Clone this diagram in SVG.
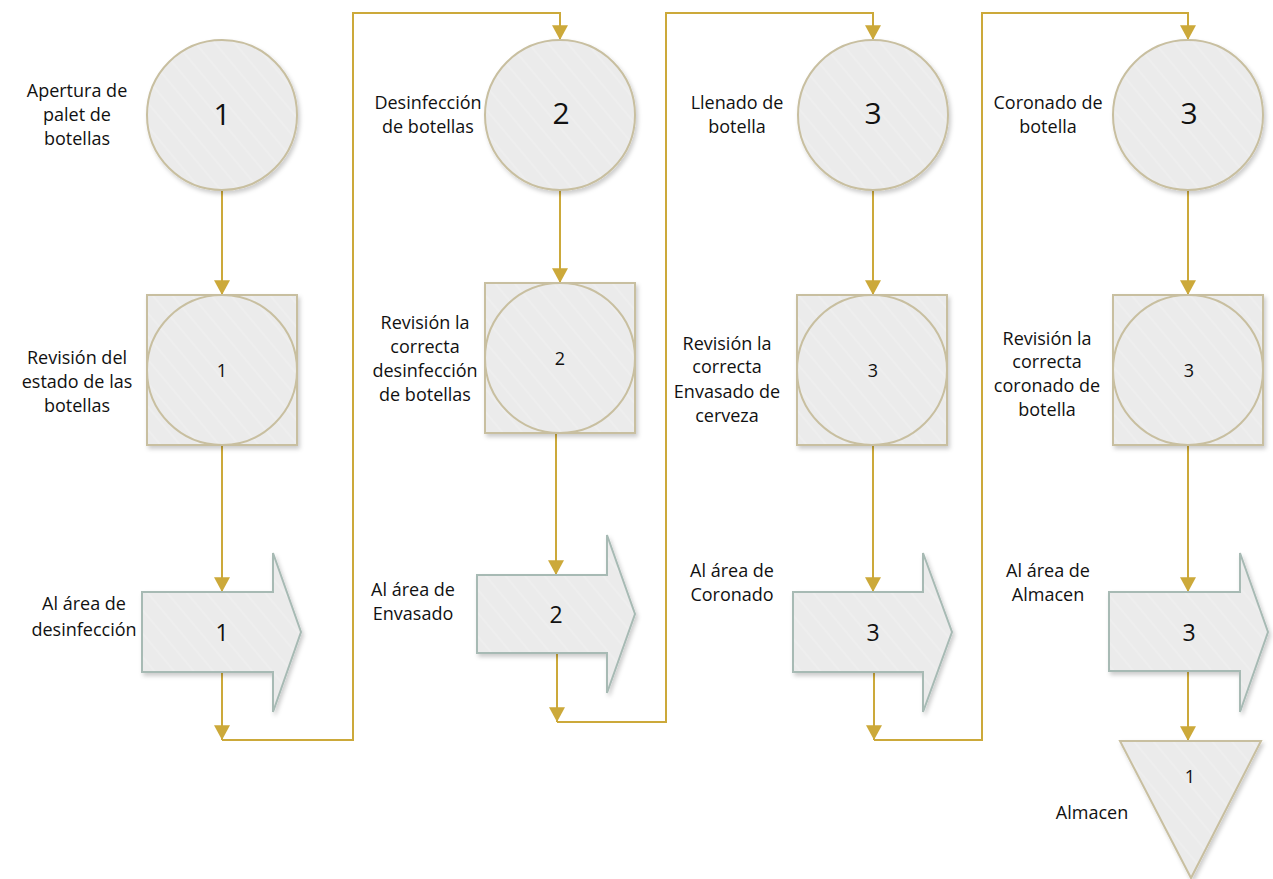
<svg xmlns="http://www.w3.org/2000/svg" width="1273" height="879" viewBox="0 0 1273 879">
<defs>
<pattern id="hatch" patternUnits="userSpaceOnUse" width="15" height="15" patternTransform="rotate(-40)">
<rect width="15" height="15" fill="#ebebeb"/>
<line x1="2" y1="0" x2="2" y2="15" stroke="#f1f1f1" stroke-width="1.2"/>
</pattern>
<filter id="sh" x="-10%" y="-10%" width="125%" height="125%">
<feDropShadow dx="2" dy="3" stdDeviation="2" flood-color="#000" flood-opacity="0.2"/>
</filter>
<marker id="ah" markerUnits="userSpaceOnUse" markerWidth="16" markerHeight="16" viewBox="0 0 14 14" refX="13" refY="7" orient="auto">
<path d="M0,0 L13,7 L0,14 Z" fill="#cca93a"/>
</marker>
</defs>
<style>
.c{fill:url(#hatch);stroke:#c8bfa0;stroke-width:2;filter:url(#sh)}
.ci{fill:url(#hatch);stroke:#c8bfa0;stroke-width:2}
.a{fill:url(#hatch);stroke:#a7bab4;stroke-width:2;filter:url(#sh)}
.t{fill:url(#hatch);stroke:#c8bfa0;stroke-width:2;filter:url(#sh)}
.l{font-family:"Open Sans","Liberation Sans",sans-serif;font-size:18px;fill:#111;text-anchor:middle}
.nb{font-family:"Open Sans","Liberation Sans",sans-serif;font-size:30px;fill:#111;text-anchor:middle}
.nm{font-family:"Open Sans","Liberation Sans",sans-serif;font-size:23px;fill:#111;text-anchor:middle}
.ns{font-family:"Open Sans","Liberation Sans",sans-serif;font-size:18px;fill:#111;text-anchor:middle}
.ke{fill:none;stroke:#cca93a;stroke-width:2;marker-end:url(#ah)}
</style>

<g id="connectors">
<path class="ke" d="M222,190 L222,295"/>
<path class="ke" d="M222,445 L222,592"/>
<path class="ke" d="M222,672 L222,740"/>
<path class="ke" d="M222,740 L353,740 L353,13 L560,13 L560,40"/>
<path class="ke" d="M560,190 L560,283"/>
<path class="ke" d="M556,427 L556,575"/>
<path class="ke" d="M557,653 L557,722"/>
<path class="ke" d="M557,722 L666,722 L666,13 L873,13 L873,40"/>
<path class="ke" d="M873,190 L873,295"/>
<path class="ke" d="M873,445 L873,592"/>
<path class="ke" d="M874,672 L874,740"/>
<path class="ke" d="M874,740 L982,740 L982,13 L1188,13 L1188,40"/>
<path class="ke" d="M1188,190 L1188,295"/>
<path class="ke" d="M1188,445 L1188,592"/>
<path class="ke" d="M1188,671 L1188,741"/>
</g>

<g id="op1">
<circle class="c" cx="222" cy="115" r="75"/>
<text class="nb" x="222" y="125">1</text>
<text class="l"><tspan x="77" y="97">Apertura de</tspan><tspan x="77" y="121">palet de</tspan><tspan x="77" y="145">botellas</tspan></text>
</g>
<g id="insp1">
<rect class="c" x="147" y="295" width="150" height="150"/>
<circle class="ci" cx="222" cy="370" r="75"/>
<text class="ns" x="222" y="377">1</text>
<text class="l"><tspan x="77" y="364">Revisión del</tspan><tspan x="77" y="388">estado de las</tspan><tspan x="77" y="412">botellas</tspan></text>
</g>
<g id="tr1">
<path class="a" d="M142,592 L273,592 L273,553 L301,632 L273,712 L273,672 L142,672 Z"/>
<text class="nm" x="222" y="641">1</text>
<text class="l"><tspan x="84" y="610">Al área de</tspan><tspan x="84" y="636">desinfección</tspan></text>
</g>

<g id="op2">
<circle class="c" cx="560" cy="115" r="75"/>
<text class="nb" x="561" y="124">2</text>
<text class="l"><tspan x="428" y="109">Desinfección</tspan><tspan x="428" y="133">de botellas</tspan></text>
</g>
<g id="insp2">
<rect class="c" x="485" y="283" width="150" height="150"/>
<circle class="ci" cx="560" cy="358" r="75"/>
<text class="ns" x="560" y="365">2</text>
<text class="l"><tspan x="425" y="329">Revisión la</tspan><tspan x="425" y="353">correcta</tspan><tspan x="425" y="377">desinfección</tspan><tspan x="425" y="401">de botellas</tspan></text>
</g>
<g id="tr2">
<path class="a" d="M477,575 L607,575 L607,535 L635,614 L607,693 L607,653 L477,653 Z"/>
<text class="nm" x="556" y="623">2</text>
<text class="l"><tspan x="413" y="596">Al área de</tspan><tspan x="413" y="620">Envasado</tspan></text>
</g>

<g id="op3">
<circle class="c" cx="873" cy="115" r="75"/>
<text class="nb" x="873" y="124">3</text>
<text class="l"><tspan x="737" y="109">Llenado de</tspan><tspan x="737" y="133">botella</tspan></text>
</g>
<g id="insp3">
<rect class="c" x="797" y="295" width="150" height="150"/>
<circle class="ci" cx="872" cy="370" r="75"/>
<text class="ns" x="873" y="377">3</text>
<text class="l"><tspan x="727" y="350">Revisión la</tspan><tspan x="727" y="373">correcta</tspan><tspan x="727" y="398">Envasado de</tspan><tspan x="727" y="422">cerveza</tspan></text>
</g>
<g id="tr3">
<path class="a" d="M793,592 L923,592 L923,553 L952,632 L923,712 L923,672 L793,672 Z"/>
<text class="nm" x="873" y="641">3</text>
<text class="l"><tspan x="732" y="577">Al área de</tspan><tspan x="732" y="601">Coronado</tspan></text>
</g>

<g id="op4">
<circle class="c" cx="1188" cy="115" r="75"/>
<text class="nb" x="1189" y="124">3</text>
<text class="l"><tspan x="1048" y="109">Coronado de</tspan><tspan x="1048" y="133">botella</tspan></text>
</g>
<g id="insp4">
<rect class="c" x="1113" y="295" width="150" height="150"/>
<circle class="ci" cx="1188" cy="370" r="75"/>
<text class="ns" x="1189" y="377">3</text>
<text class="l"><tspan x="1047" y="345">Revisión la</tspan><tspan x="1047" y="368">correcta</tspan><tspan x="1047" y="392">coronado de</tspan><tspan x="1047" y="416">botella</tspan></text>
</g>
<g id="tr4">
<path class="a" d="M1109,592 L1240,592 L1240,553 L1268,632 L1240,712 L1240,671 L1109,671 Z"/>
<text class="nm" x="1189" y="641">3</text>
<text class="l"><tspan x="1048" y="577">Al área de</tspan><tspan x="1048" y="601">Almacen</tspan></text>
</g>

<g id="store">
<path class="t" d="M1120,741 L1261,741 L1191,878 Z"/>
<text class="ns" x="1190" y="783">1</text>
<text class="l" x="1092" y="819">Almacen</text>
</g>
</svg>
